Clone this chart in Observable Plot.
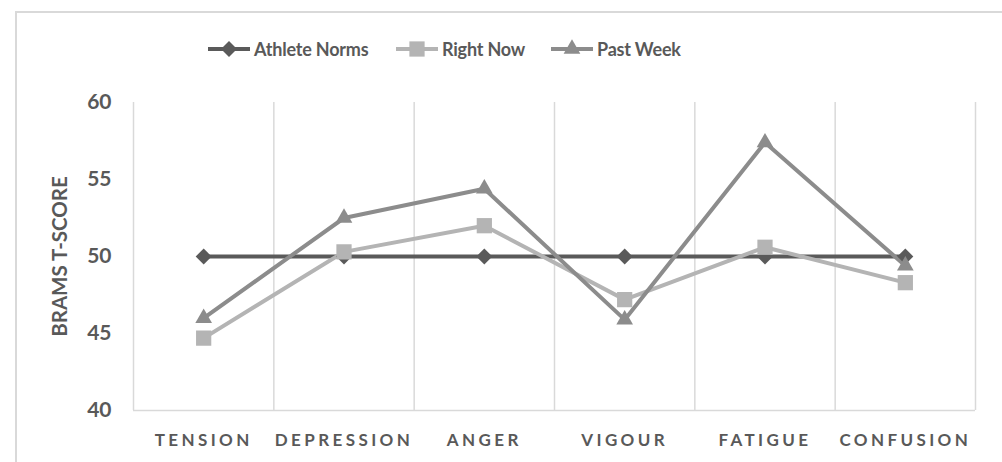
<!DOCTYPE html>
<html><head><meta charset="utf-8">
<script src="https://cdn.jsdelivr.net/npm/d3@7"></script>
<script src="https://cdn.jsdelivr.net/npm/@observablehq/plot@0.6"></script>
<style>
body{margin:0;background:#fff;font-family:Lato,"Open Sans",sans-serif;}
#wrap{position:relative;width:1002px;height:462px;overflow:hidden;background:#fff;}
#frame{position:absolute;left:15px;top:11px;width:1100px;height:600px;border-left:2px solid #d9d9d9;border-top:2px solid #d9d9d9;box-sizing:border-box;}
#chart{position:absolute;left:0;top:0;}
.leg{position:absolute;top:38px;height:22px;display:flex;align-items:center;font-family:Lato,sans-serif;font-weight:bold;font-size:18px;letter-spacing:-0.2px;color:#595959;white-space:nowrap;}
.leg svg{margin-right:4px;}
#chart svg [aria-label="x-axis tick label"] text{letter-spacing:3.4px;}
</style>
</head><body>
<div id="wrap"><div id="frame"></div><div id="chart"></div><div id="legend"></div></div>
<script>
const categories = ["TENSION","DEPRESSION","ANGER","VIGOUR","FATIGUE","CONFUSION"];
const seriesNames = ["Athlete Norms","Right Now","Past Week"];
const athleteNorms = [50,50,50,50,50,50];
const rightNow = [44.7,50.3,52.0,47.2,50.6,48.3];
const pastWeek = [46.0,52.5,54.4,45.9,57.4,49.4];
const yTicks = [40,45,50,55,60];
const yLabel = "BRAMS T-SCORE";
const colors = ["#5a5a5a","#b4b4b4","#8c8c8c"];
const symbols = ["diamond2","square","triangle"];

const seriesValues = [athleteNorms, rightNow, pastWeek];
const data = [];
seriesNames.forEach((s, k) => seriesValues[k].forEach((v, i) => data.push({series: s, i, value: v})));
const bounds = d3.range(categories.length + 1).map(i => i - 0.5);

const plot = Plot.plot({
  width: 1002, height: 462,
  marginLeft: 133, marginRight: 27, marginTop: 102, marginBottom: 52,
  style: {fontFamily: "Lato, sans-serif", fontWeight: "bold", color: "#595959", background: "transparent"},
  x: {domain: [-0.5, categories.length - 0.5]},
  y: {domain: [40, 60]},
  color: {domain: seriesNames, range: colors},
  symbol: {domain: seriesNames, range: symbols},
  marks: [
    Plot.ruleX(bounds, {stroke: "#d9d9d9", strokeWidth: 1.5}),
    Plot.ruleY([40], {stroke: "#d9d9d9", strokeWidth: 1.5}),
    Plot.axisX({ticks: d3.range(categories.length), tickFormat: i => categories[i], tickSize: 0, tickPadding: 23, fontSize: 17, label: null, fill: "#595959"}),
    Plot.axisY({ticks: yTicks, tickSize: 0, tickPadding: 22, fontSize: 21, label: null, fill: "#595959"}),
    Plot.text([yLabel], {frameAnchor: "left", textAnchor: "middle", rotate: -90, dx: -73, fontSize: 20.5, fontWeight: "bold", fill: "#595959"}),
    Plot.line(data, {x: "i", y: "value", z: "series", stroke: "series", strokeWidth: 4}),
    Plot.dot(data.filter(d => d.series === seriesNames[0]), {x: "i", y: "value", symbol: "series", fill: "series", r: 7.2}),
    Plot.dot(data.filter(d => d.series === seriesNames[1]), {x: "i", y: "value", symbol: "series", fill: "series", r: 8.6}),
    Plot.dot(data.filter(d => d.series === seriesNames[2]), {x: "i", y: "value", symbol: "series", fill: "series", r: 6.2})
  ]
});
document.getElementById("chart").appendChild(plot);

// legend
const legendX = [208, 396, 551];
const legend = document.getElementById("legend");
seriesNames.forEach((s, k) => {
  const item = document.createElement("div");
  item.className = "leg";
  item.style.left = legendX[k] + "px";
  const sw = d3.create("svg").attr("width", 42).attr("height", 22);
  sw.append("line").attr("x1", 0).attr("x2", 42).attr("y1", 11).attr("y2", 11).attr("stroke", colors[k]).attr("stroke-width", 4);
  const symMap = {diamond2: d3.symbolDiamond2, square: d3.symbolSquare, triangle: d3.symbolTriangle};
  const rr = [7.2, 8.6, 6.2][k];
  sw.append("path").attr("transform", "translate(21,11)").attr("fill", colors[k])
    .attr("d", d3.symbol(symMap[symbols[k]], rr * rr * Math.PI)());
  item.appendChild(sw.node());
  const t = document.createElement("span");
  t.textContent = s;
  item.appendChild(t);
  legend.appendChild(item);
});
</script>
</body></html>
